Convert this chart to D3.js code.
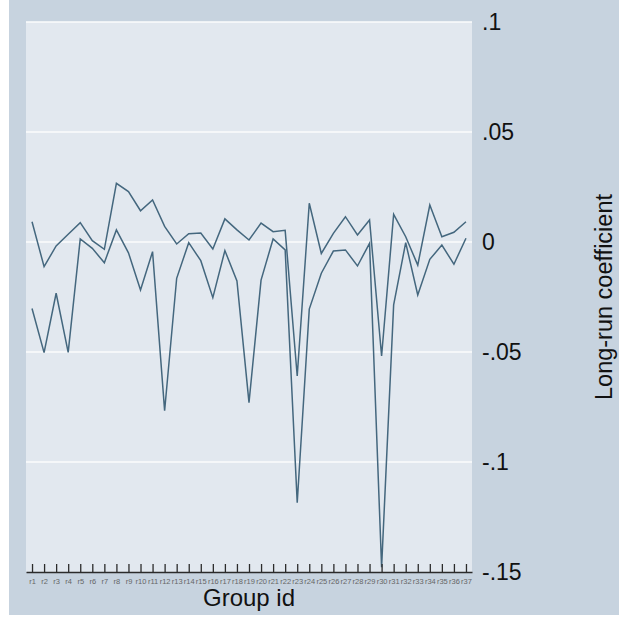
<!DOCTYPE html>
<html>
<head>
<meta charset="utf-8">
<script src="https://cdn.jsdelivr.net/npm/d3@7"></script>
<style>
  html, body { margin: 0; padding: 0; background: #ffffff; }
  svg { display: block; font-family: "Liberation Sans", Arial, sans-serif; }
</style>
</head>
<body>
<svg id="chart" width="619" height="618"></svg>
<script>
// Group identifiers r1 ... r37
const groups = ["r1","r2","r3","r4","r5","r6","r7","r8","r9","r10","r11","r12","r13",
  "r14","r15","r16","r17","r18","r19","r20","r21","r22","r23","r24","r25","r26",
  "r27","r28","r29","r30","r31","r32","r33","r34","r35","r36","r37"];

// Long-run coefficient, first series
const seriesA = [0.0092,-0.0112,-0.0018,0.0035,0.0088,0.0006,-0.0033,0.0267,0.0229,0.0142,
  0.0191,0.0071,-0.0009,0.0038,0.0041,-0.0032,0.0105,0.0055,0.0009,0.0086,0.0047,0.0053,
  -0.0609,0.0176,-0.0052,0.0039,0.0115,0.0032,0.0100,-0.0518,0.0126,0.0024,-0.0105,
  0.0168,0.0024,0.0044,0.0092];

// Long-run coefficient, second series
const seriesB = [-0.0302,-0.0503,-0.0233,-0.0502,0.0014,-0.0029,-0.0094,0.0055,-0.0049,-0.0218,
  -0.0044,-0.0767,-0.0165,-0.0003,-0.0085,-0.0253,-0.0039,-0.0177,-0.0730,-0.0173,0.0014,
  -0.0036,-0.1185,-0.0305,-0.0142,-0.0041,-0.0036,-0.0109,-0.0006,-0.1478,-0.0286,-0.0003,
  -0.0241,-0.0079,-0.0014,-0.0101,0.0017];

// Y axis ticks and their labels
const yTickValues = [-0.15, -0.1, -0.05, 0, 0.05, 0.1];
const yTickLabels = ["-.15", "-.1", "-.05", "0", ".05", ".1"];

const xTitle = "Group id";
const yTitle = "Long-run coefficient";

const svg = d3.select("#chart");

// Graph region and plot region
const outer = { x: 9, y: 0, w: 610, h: 615 };
const plot = { left: 26, right: 472, top: 22, bottom: 572 };

svg.append("rect")
  .attr("x", outer.x).attr("y", outer.y)
  .attr("width", outer.w).attr("height", outer.h)
  .attr("fill", "#c7d3df");

svg.append("rect")
  .attr("x", plot.left).attr("y", plot.top)
  .attr("width", plot.right - plot.left).attr("height", plot.bottom - plot.top)
  .attr("fill", "#e2e8ef");

const x = d3.scalePoint()
  .domain(groups)
  .range([plot.left, plot.right])
  .padding(0.5);

const y = d3.scaleLinear()
  .domain([-0.15, 0.1])
  .range([plot.bottom, plot.top]);

// Horizontal grid lines
svg.append("g")
  .selectAll("line")
  .data(yTickValues.filter(v => v > -0.15))
  .join("line")
  .attr("x1", plot.left).attr("x2", plot.right)
  .attr("y1", d => y(d)).attr("y2", d => y(d))
  .attr("stroke", "#fbfcfd")
  .attr("stroke-width", 1.4);

// Series lines
const line = d3.line()
  .x((d, i) => x(groups[i]))
  .y(d => y(d));

[seriesA, seriesB].forEach(s => {
  svg.append("path")
    .datum(s)
    .attr("d", line)
    .attr("fill", "none")
    .attr("stroke", "#44677e")
    .attr("stroke-width", 1.5)
    .attr("stroke-linejoin", "miter");
});

// X axis with inward ticks
const xAxis = svg.append("g")
  .attr("transform", `translate(0,${plot.bottom})`)
  .call(d3.axisBottom(x).tickSize(-8).tickSizeOuter(0).tickPadding(7));
xAxis.select(".domain").attr("stroke", "#2b2b2b").attr("stroke-width", 1.3);
xAxis.selectAll(".tick line").attr("stroke", "#2b2b2b").attr("stroke-width", 1.3);
xAxis.selectAll(".tick text")
  .attr("font-size", 7.5)
  .attr("font-family", "Liberation Sans, Arial, sans-serif")
  .attr("fill", "#666666");

// Y axis on the right, labels only
const yAxis = svg.append("g")
  .attr("transform", `translate(${plot.right},0)`)
  .call(d3.axisRight(y)
    .tickValues(yTickValues)
    .tickFormat((d, i) => yTickLabels[i])
    .tickSize(0)
    .tickPadding(10));
yAxis.select(".domain").remove();
yAxis.selectAll(".tick text")
  .attr("font-size", 23)
  .attr("font-family", "Liberation Sans, Arial, sans-serif")
  .attr("fill", "#111111");

// Axis titles
svg.append("text")
  .attr("x", (plot.left + plot.right) / 2)
  .attr("y", 606)
  .attr("text-anchor", "middle")
  .attr("font-size", 24)
  .attr("fill", "#111111")
  .text(xTitle);

svg.append("text")
  .attr("transform", `translate(612,${(plot.top + plot.bottom) / 2}) rotate(-90)`)
  .attr("text-anchor", "middle")
  .attr("font-size", 23.5)
  .attr("fill", "#111111")
  .text(yTitle);
</script>
</body>
</html>
